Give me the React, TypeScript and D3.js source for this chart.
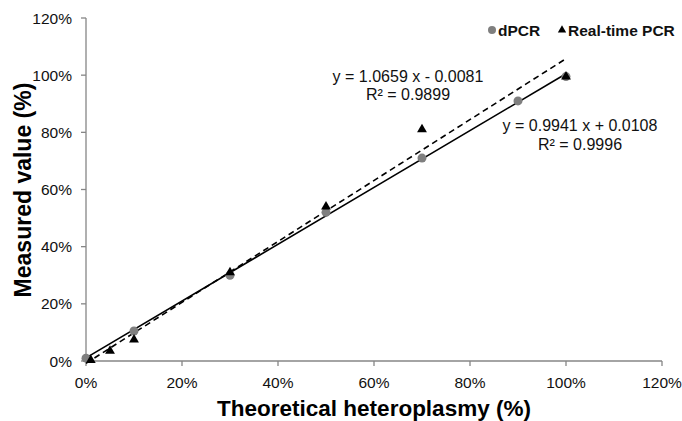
import React from 'react';
import * as d3 from 'd3';

// theoretical heteroplasmy (fraction) vs measured (fraction)
const dpcrX = [0, 0.1, 0.3, 0.5, 0.7, 0.9, 1.0];
const dpcrY = [0.01, 0.105, 0.3, 0.52, 0.71, 0.91, 0.995];
const qpcrX = [0.01, 0.05, 0.1, 0.3, 0.5, 0.7, 1.0];
const qpcrY = [0.003, 0.035, 0.075, 0.31, 0.54, 0.81, 0.995];

// trendline coefficients [slope, intercept]
const dpcrFit = [0.9941, 0.0108];
const qpcrFit = [1.0659, -0.0081];

const ticks = [0, 0.2, 0.4, 0.6, 0.8, 1.0, 1.2];

const W = 682;
const H = 421;
const FONT = '"Liberation Sans", Arial, sans-serif';

const App: React.FC = () => {
  const x = d3.scaleLinear().domain([0, 1.2]).range([86, 662]);
  const y = d3.scaleLinear().domain([0, 1.2]).range([361, 18]);
  const fmt = d3.format('.0%');
  const axisColor = '#868686';

  const fitLine = (fit: number[]) =>
    d3.line<number>()
      .x(d => x(d))
      .y(d => y(fit[0] * d + fit[1]))([0, 1.0])!;

  const tri = d3.symbol().type(d3.symbolTriangle).size(42)()!;

  return (
    <svg width={W} height={H} style={{ position: 'absolute', left: 0, top: 0, background: '#fff' }}>
      <rect width={W} height={H} fill="#fff" />
      {/* axes */}
      <line x1={x(0)} x2={x(1.2)} y1={y(0)} y2={y(0)} stroke={axisColor} strokeWidth={1.3} />
      <line x1={x(0)} x2={x(0)} y1={y(0)} y2={y(1.2)} stroke={axisColor} strokeWidth={1.3} />
      {ticks.map(t => (
        <g key={'x' + t}>
          <line x1={x(t)} x2={x(t)} y1={y(0)} y2={y(0) + 5} stroke={axisColor} strokeWidth={1.3} />
          <text x={x(t)} y={388} textAnchor="middle" fontFamily={FONT} fontSize={15.5} fill="#111">{fmt(t)}</text>
        </g>
      ))}
      {ticks.map(t => (
        <g key={'y' + t}>
          <line x1={x(0) - 5} x2={x(0)} y1={y(t)} y2={y(t)} stroke={axisColor} strokeWidth={1.3} />
          <text x={72} y={y(t) + 5.5} textAnchor="end" fontFamily={FONT} fontSize={15.5} fill="#111">{fmt(t)}</text>
        </g>
      ))}

      {/* trendlines */}
      <path d={fitLine(qpcrFit)} fill="none" stroke="#000" strokeWidth={1.6} strokeDasharray="6,4" />
      <path d={fitLine(dpcrFit)} fill="none" stroke="#000" strokeWidth={1.6} />

      {/* points */}
      {dpcrX.map((v, i) => (
        <circle key={'d' + i} cx={x(v)} cy={y(dpcrY[i])} r={4.5} fill="#7f7f7f" />
      ))}
      {qpcrX.map((v, i) => (
        <path key={'q' + i} d={tri} transform={`translate(${x(v)},${y(qpcrY[i])})`} fill="#000" />
      ))}

      {/* equations */}
      <text x={408} y={82} textAnchor="middle" fontFamily={FONT} fontSize={16} fill="#111">y = 1.0659 x - 0.0081</text>
      <text x={408} y={100} textAnchor="middle" fontFamily={FONT} fontSize={16} fill="#111">R² = 0.9899</text>
      <text x={580} y={131} textAnchor="middle" fontFamily={FONT} fontSize={16} fill="#111">y = 0.9941 x + 0.0108</text>
      <text x={580} y={150} textAnchor="middle" fontFamily={FONT} fontSize={16} fill="#111">R² = 0.9996</text>

      {/* legend */}
      <circle cx={492} cy={30} r={4} fill="#7f7f7f" />
      <text x={498} y={35.5} fontFamily={FONT} fontSize={15.5} fontWeight="bold" fill="#111">dPCR</text>
      <path d={d3.symbol().type(d3.symbolTriangle).size(30)()!} transform="translate(562,30)" fill="#000" />
      <text x={568} y={35.5} fontFamily={FONT} fontSize={15.5} fontWeight="bold" fill="#111">Real-time PCR</text>

      {/* axis titles */}
      <text x={374} y={416} textAnchor="middle" fontFamily={FONT} fontSize={22.5} fontWeight="bold" fill="#000">Theoretical heteroplasmy (%)</text>
      <text transform="translate(31,190) rotate(-90)" textAnchor="middle" fontFamily={FONT} fontSize={23} fontWeight="bold" fill="#000">Measured value (%)</text>
    </svg>
  );
};

export default App;
